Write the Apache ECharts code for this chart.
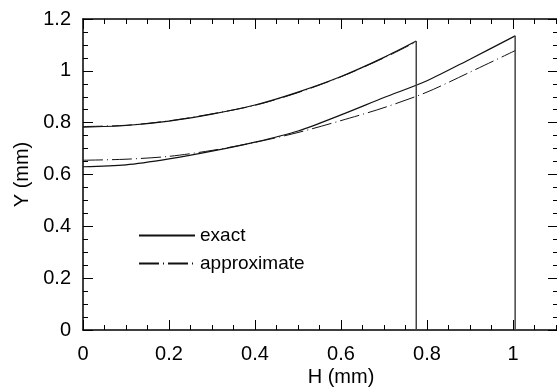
<!DOCTYPE html>
<html><head><meta charset="utf-8">
<script src="https://cdn.jsdelivr.net/npm/echarts@6/dist/echarts.min.js"></script>
<style>html,body{margin:0;padding:0;background:#fff}#c{width:557px;height:389px}</style>
</head><body><div id="c"></div>
<script>
// Data
var H_upper = [0, 0.1, 0.2, 0.3, 0.4, 0.5, 0.6, 0.7, 0.775];
var exactUpper = [0.783, 0.789, 0.806, 0.833, 0.868, 0.918, 0.978, 1.052, 1.115];
var approxUpper = [0.785, 0.790, 0.807, 0.834, 0.867, 0.916, 0.977, 1.050, 1.112];
var H_lower = [0, 0.1, 0.2, 0.3, 0.4, 0.5, 0.6, 0.7, 0.8, 0.9, 1.005];
var exactLower = [0.630, 0.637, 0.660, 0.690, 0.725, 0.768, 0.830, 0.897, 0.962, 1.045, 1.135];
var approxLower = [0.655, 0.659, 0.670, 0.693, 0.724, 0.762, 0.808, 0.858, 0.918, 0.995, 1.078];
var xTickLabels = ['0', '0.2', '0.4', '0.6', '0.8', '1'];
var yTickLabels = ['0', '0.2', '0.4', '0.6', '0.8', '1', '1.2'];

function pairs(xs, ys) { return xs.map(function (x, i) { return [x, ys[i]]; }); }
function dropLine(xs, ys) { var n = xs.length - 1; return [[xs[n], ys[n]], [xs[n], 0]]; }
function fmt(list) { return function (v) { var s = String(Math.round(v * 100) / 100); return list.indexOf(s) >= 0 ? s : ''; }; }

var font = 'Liberation Sans, Arial, sans-serif';
var axisCol = '#000';
function xAx(pos, labels, grid, show) {
  return {
    type: 'value', gridIndex: grid, show: show, position: pos, min: 0, max: 1.2, interval: 0.2,
    name: (labels ? 'H (mm)' : ''), nameLocation: 'middle', nameGap: 37, nameMoveOverlap: false,
    nameTextStyle: { fontFamily: font, fontSize: 20, color: '#000' },
    axisLine: { show: true, onZero: false, lineStyle: { color: axisCol, width: 1.5 } },
    axisTick: { show: true, inside: true, length: 10, lineStyle: { color: axisCol, width: 1 } },
    minorTick: { show: true, splitNumber: 4, length: 5, lineStyle: { color: axisCol, width: 1 } },
    axisLabel: { show: labels, margin: 14, fontFamily: font, fontSize: 20, color: '#000', formatter: fmt(xTickLabels) },
    splitLine: { show: false }, minorSplitLine: { show: false }
  };
}
function yAx(pos, labels, grid) {
  return {
    type: 'value', gridIndex: grid, position: pos, min: 0, max: 1.2, interval: 0.2,
    name: (labels ? 'Y (mm)' : ''), nameLocation: 'middle', nameGap: 50,
    nameTextStyle: { fontFamily: font, fontSize: 20, color: '#000' },
    axisLine: { show: true, onZero: false, lineStyle: { color: axisCol, width: 1.5 } },
    axisTick: { show: true, inside: true, length: 10, lineStyle: { color: axisCol, width: 1 } },
    minorTick: { show: true, splitNumber: 4, length: 5, lineStyle: { color: axisCol, width: 1 } },
    axisLabel: { show: labels, margin: 12, fontFamily: font, fontSize: 20, color: '#000', formatter: fmt(yTickLabels) },
    splitLine: { show: false }, minorSplitLine: { show: false }
  };
}

var lineCol = '#111';
var dash = [20, 4, 1, 4];
var chart = echarts.init(document.getElementById('c'), null, { renderer: 'canvas' });
chart.setOption({
  animation: false,
  backgroundColor: '#fff',
  grid: [
    { left: 83, width: 516, top: 19, height: 311, outerBoundsMode: 'none', containLabel: false },
    { left: 83, width: 475, top: 19, height: 311, outerBoundsMode: 'none', containLabel: false }
  ],
  xAxis: [xAx('bottom', true, 0, true), xAx('top', false, 0, true), xAx('bottom', false, 1, false)],
  yAxis: [yAx('left', true, 0), yAx('right', false, 1)],
  legend: {
    orient: 'vertical', left: 138, top: 226, padding: 0, itemWidth: 56, itemHeight: 16, itemGap: 9,
    itemStyle: { opacity: 0 },
    textStyle: { fontFamily: font, fontSize: 19, color: '#000', lineHeight: 16 },
    data: ['exact', 'approximate']
  },
  series: [
    { name: 'exact', type: 'line', symbol: 'none', smooth: 0.3, data: pairs(H_upper, exactUpper), lineStyle: { color: lineCol, width: 1.2 }, itemStyle: { color: lineCol } },
    { name: 'exact', type: 'line', symbol: 'none', smooth: 0.3, data: pairs(H_lower, exactLower), lineStyle: { color: lineCol, width: 1.2 }, itemStyle: { color: lineCol } },
    { name: 'exact', type: 'line', symbol: 'none', data: dropLine(H_upper, exactUpper), lineStyle: { color: '#444', width: 1.5 }, itemStyle: { color: lineCol } },
    { name: 'exact', type: 'line', symbol: 'none', data: dropLine(H_lower, exactLower), lineStyle: { color: '#444', width: 1.5 }, itemStyle: { color: lineCol } },
    { name: 'approximate', type: 'line', symbol: 'none', smooth: 0.3, data: pairs(H_upper, approxUpper), lineStyle: { color: lineCol, width: 1, type: dash }, itemStyle: { color: lineCol } },
    { name: 'approximate', type: 'line', symbol: 'none', smooth: 0.3, data: pairs(H_lower, approxLower), lineStyle: { color: lineCol, width: 1, type: dash }, itemStyle: { color: lineCol } }
  ]
});
</script></body></html>
